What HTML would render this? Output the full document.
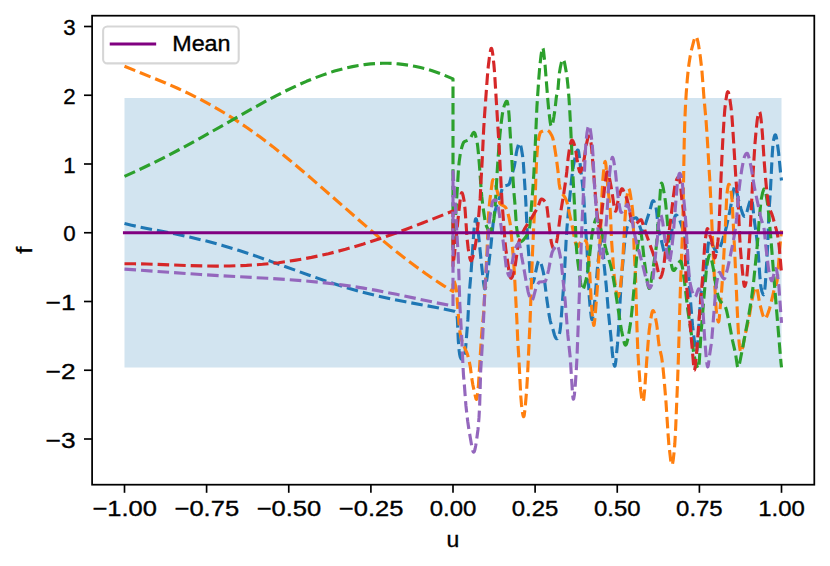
<!DOCTYPE html>
<html><head><meta charset="utf-8"><title>plot</title>
<style>
html,body{margin:0;padding:0;background:#fff;}
svg{display:block;}
text{font-family:"Liberation Sans",sans-serif;fill:#000;stroke:#000;stroke-width:0.35;}
.c path{fill:none;stroke-width:3.125;stroke-dasharray:11.56 5;stroke-linejoin:round;stroke-linecap:butt;}
.tk line{stroke:#000;stroke-width:1.67;}
</style></head>
<body>
<svg width="830" height="566" viewBox="0 0 830 566">
<rect width="830" height="566" fill="#fff"/>
<defs><clipPath id="ax"><rect x="92.1" y="15.7" width="722.2" height="469"/></clipPath></defs>
<rect x="124.5" y="98" width="657" height="269.5" fill="#d2e4f0"/>
<g class="c" clip-path="url(#ax)">
<path d="M124.5,223.5L131.5,225.2L140.5,227.2L174.5,233.8L189.5,237.0L206.5,241.1L222.5,245.4L238.5,250.3L255.5,255.9L271.5,261.6L308.5,275.0L327.5,281.6L345.5,287.4L362.5,292.2L376.5,295.7L391.5,299.1L405.5,301.8L437.5,307.7L454.3,311.3L455.2,311.8L456.0,312.7L456.7,313.8L457.0,314.9L457.4,319.5L458.3,340.6L459.1,350.2L459.6,354.1L460.2,356.8L461.1,358.8L461.5,359.3L461.9,359.4L462.4,359.2L463.0,358.4L463.6,357.1L464.2,355.4L465.2,351.4L465.7,347.3L467.9,319.2L469.2,294.0L470.9,274.6L473.9,231.1L474.5,224.7L475.4,219.6L475.7,218.8L475.9,218.7L476.1,218.8L476.3,219.2L476.8,221.2L477.5,225.5L478.1,230.5L481.5,264.4L483.5,282.4L484.4,288.0L484.8,288.9L485.0,288.9L485.2,288.7L485.7,287.0L486.2,284.1L488.2,268.9L491.0,244.7L493.0,224.4L494.1,216.3L495.2,210.6L496.9,204.6L500.6,194.6L502.1,189.0L502.7,187.3L503.2,186.6L504.0,186.1L507.2,185.3L508.4,184.8L509.0,184.3L509.6,183.0L511.6,175.5L513.5,169.3L514.4,165.8L515.0,162.5L516.3,153.2L517.1,149.3L518.5,144.5L519.0,143.5L519.5,143.1L519.9,143.3L520.3,144.0L521.3,148.1L522.6,156.1L523.4,163.5L525.7,199.3L527.1,229.4L528.0,244.7L529.9,270.4L530.4,275.2L530.9,278.2L531.5,280.8L532.0,282.3L532.5,282.8L532.8,282.7L533.1,282.3L533.7,280.9L534.3,278.7L536.9,266.1L538.0,262.0L538.6,260.9L539.1,260.6L539.4,260.7L539.8,261.1L540.5,262.3L541.3,264.4L542.1,267.1L543.2,271.6L543.8,274.6L546.8,299.0L549.1,314.9L550.1,320.3L551.0,323.6L553.0,329.5L554.5,335.0L555.2,336.9L556.0,338.3L556.6,338.8L556.9,338.8L557.3,338.5L558.0,337.5L559.0,335.2L559.7,332.7L560.3,328.8L560.9,322.9L564.3,276.3L566.1,240.9L566.9,228.7L568.8,206.7L571.7,178.3L572.9,168.7L575.0,157.7L575.8,154.4L576.6,151.8L577.3,150.4L577.6,150.1L577.9,150.0L578.3,150.5L578.6,151.6L579.3,156.2L580.9,171.1L582.8,187.0L583.8,197.7L585.7,230.1L587.0,248.1L588.4,281.2L589.1,294.4L590.1,307.0L591.3,317.4L591.8,319.4L592.0,319.6L592.2,319.5L592.7,318.0L593.3,314.3L595.3,295.8L597.3,269.6L598.2,260.4L599.6,248.9L600.5,242.8L601.3,239.3L601.7,238.5L601.9,238.5L602.0,238.6L602.3,240.0L602.6,242.7L604.2,265.4L606.3,286.5L608.7,315.2L611.0,337.5L612.3,352.8L612.8,357.1L613.6,362.5L614.2,365.2L614.5,365.9L614.7,366.1L615.0,365.9L615.2,365.3L615.8,361.6L617.5,344.2L618.9,323.1L620.9,286.5L621.9,273.6L624.4,244.9L625.7,234.8L626.9,228.1L627.5,226.1L628.4,223.8L629.4,221.9L630.3,220.7L631.8,219.5L634.0,218.3L635.8,217.8L636.3,217.9L636.7,218.1L637.2,218.8L637.8,220.3L641.6,231.7L642.2,232.7L642.5,232.8L642.8,232.7L643.2,232.1L643.7,230.8L645.9,222.7L649.4,212.1L651.9,202.7L652.4,201.5L652.8,200.9L653.2,200.7L653.6,200.9L654.3,202.0L655.0,203.8L655.8,206.7L656.4,209.6L656.8,212.7L657.9,225.3L659.0,231.5L661.2,239.8L664.1,252.2L665.1,255.0L665.6,255.7L666.0,255.9L666.5,255.6L667.1,254.5L667.7,252.8L668.4,250.0L669.7,243.3L672.9,224.4L673.8,220.1L674.6,217.3L675.4,215.5L675.8,215.1L676.2,215.1L676.8,215.3L677.4,215.9L678.7,217.9L679.7,220.1L680.9,223.4L683.5,231.9L684.9,238.8L686.3,248.2L687.0,254.2L687.6,260.8L690.2,297.4L692.5,325.2L694.9,345.6L695.7,350.0L696.1,351.3L696.4,351.6L696.6,351.5L696.8,350.9L697.1,349.3L697.8,342.3L700.1,305.2L701.0,294.0L701.5,290.1L702.2,286.0L704.8,274.6L705.9,268.5L706.6,262.3L708.0,246.1L708.7,241.1L709.0,240.3L709.3,240.1L709.8,240.4L710.5,241.1L711.7,243.1L714.6,249.1L715.4,250.4L716.2,251.2L717.0,251.5L717.8,251.1L718.6,250.1L719.5,248.5L720.7,245.6L722.1,241.5L725.3,231.0L726.5,226.4L730.3,209.0L733.3,191.2L733.9,188.6L734.4,187.2L734.8,186.6L735.1,186.6L735.4,186.9L735.8,187.9L736.5,190.6L738.2,198.8L741.1,209.2L742.7,214.0L743.4,215.4L744.1,216.2L744.6,216.4L745.1,216.2L745.6,215.4L746.1,214.3L747.1,211.2L749.3,203.2L750.4,200.3L750.9,199.5L751.3,199.2L751.6,199.4L751.9,200.1L752.6,204.4L754.3,220.3L756.3,234.5L757.4,244.1L758.3,253.8L759.8,275.6L760.6,284.4L761.2,288.4L761.9,291.5L762.9,294.0L763.3,294.6L763.6,294.8L763.9,294.4L764.1,293.7L764.7,290.1L765.2,285.5L765.7,278.7L767.7,245.6L768.9,212.9L770.4,191.0L772.2,155.1L772.8,146.6L773.4,140.9L774.2,137.1L774.7,135.6L775.1,134.9L775.4,134.8L775.7,135.1L776.4,137.5L777.2,142.2L778.6,152.7L780.7,174.2L781.5,180.5" stroke="#1f77b4"/>
<path d="M124.5,66.2L165.5,83.0L177.5,88.3L188.5,93.4L200.5,99.4L212.5,105.9L224.5,113.0L235.5,119.9L247.5,128.0L259.5,136.6L272.5,146.4L285.5,156.7L297.5,166.7L311.5,178.6L358.5,219.7L377.5,236.0L387.5,244.4L397.5,252.5L407.5,260.3L416.5,267.0L425.5,273.5L434.5,279.7L443.5,285.6L453.0,291.5L453.0,280.0L453.5,280.3L454.3,281.6L455.1,283.9L456.0,287.7L456.6,291.3L458.7,320.3L459.5,328.6L460.3,334.2L461.2,338.2L462.3,341.9L463.5,345.1L466.8,352.6L467.8,355.6L468.8,359.4L470.3,366.7L471.8,378.6L472.8,384.6L475.6,397.4L476.0,398.8L476.4,399.4L476.6,399.3L476.8,398.9L477.3,396.3L478.4,385.8L481.3,338.7L482.1,328.6L483.3,317.0L483.9,309.1L486.8,256.0L488.4,217.9L488.9,209.3L489.8,200.7L492.2,182.2L492.7,180.0L493.0,179.7L493.4,179.9L494.0,180.7L494.7,182.2L496.2,187.1L497.8,193.7L498.9,200.7L499.5,202.9L500.2,203.9L501.1,204.7L504.1,206.2L505.2,207.0L506.1,208.2L506.9,209.9L507.9,213.2L509.1,218.2L510.0,222.6L510.6,226.6L513.2,255.9L514.3,271.4L516.8,318.3L517.8,341.7L519.1,362.4L520.8,396.6L521.5,404.7L522.3,411.5L523.0,415.4L523.3,416.3L523.6,416.7L523.8,416.5L524.0,416.1L524.3,414.8L525.2,407.2L526.6,390.8L527.5,376.0L530.0,322.9L532.5,253.0L533.7,226.5L535.0,202.6L536.1,171.3L536.6,160.2L537.3,150.0L538.0,142.9L538.8,137.9L539.8,133.8L540.2,132.8L540.6,132.2L542.0,131.4L543.5,130.8L545.0,130.5L546.7,130.3L547.7,130.4L548.8,131.1L550.0,132.5L551.6,135.2L552.6,137.5L553.3,140.2L554.1,144.2L556.5,159.3L557.9,170.5L559.1,183.4L559.7,187.3L560.5,190.0L561.4,192.1L562.4,193.8L564.3,196.4L565.2,197.8L566.1,199.7L566.9,202.0L567.7,205.3L572.4,227.1L574.9,240.7L575.5,242.9L576.4,245.4L577.2,246.7L577.5,246.9L577.9,246.7L578.5,245.9L579.8,243.3L581.4,240.9L582.2,239.9L582.9,239.6L584.1,239.7L585.5,240.6L586.2,241.6L586.8,243.3L587.3,245.8L587.8,249.8L589.1,263.9L589.9,276.0L591.2,300.6L592.0,311.8L593.1,322.3L593.5,324.6L593.8,325.4L594.1,324.9L594.3,323.9L594.8,319.5L596.3,301.6L597.7,282.8L598.8,258.4L599.9,243.1L600.5,232.6L602.0,194.8L602.8,180.3L603.4,173.1L604.2,165.7L604.7,162.6L605.0,161.7L605.2,161.5L605.6,162.7L606.0,165.6L607.9,188.4L609.5,201.8L610.1,208.2L610.6,216.8L611.5,239.8L613.8,271.8L614.7,280.3L616.1,290.5L616.9,295.1L617.2,296.1L617.5,296.7L617.7,296.8L618.0,296.6L618.5,295.8L619.1,294.1L619.7,291.8L620.4,287.1L621.2,279.1L623.0,256.0L625.0,219.0L625.7,208.7L626.4,201.0L627.4,193.7L628.2,189.8L628.6,188.9L628.9,188.8L629.3,189.5L629.7,190.9L630.4,194.7L632.1,206.1L632.6,210.4L633.0,215.7L634.2,250.3L635.6,278.8L636.9,326.0L637.8,350.6L638.5,362.5L639.8,380.3L640.7,390.2L641.6,397.4L642.2,400.5L642.5,401.5L642.8,401.9L643.1,401.8L643.3,401.4L643.8,398.7L644.7,389.4L646.7,360.9L648.5,337.7L649.2,330.3L650.7,319.3L651.8,313.3L652.3,311.5L652.8,310.7L653.0,310.6L653.3,310.7L653.8,311.4L654.4,313.1L655.0,315.5L656.5,323.2L657.1,327.4L658.4,340.3L659.0,345.1L659.6,348.3L661.5,356.4L662.6,364.0L664.0,378.1L666.0,402.3L668.2,435.9L668.9,444.8L670.7,460.2L671.3,463.4L671.6,464.4L671.9,464.9L672.2,464.7L672.5,464.0L673.2,460.1L674.1,452.1L674.8,444.0L675.7,427.2L677.5,383.6L678.4,357.4L680.2,294.8L681.7,252.0L682.8,226.6L684.2,142.7L684.8,121.3L685.5,105.2L686.2,93.7L687.2,80.5L688.1,71.0L689.0,63.7L690.1,56.7L691.3,50.7L693.7,41.3L694.9,37.7L695.5,36.8L695.8,36.6L696.1,36.7L696.7,37.5L697.3,39.2L698.0,42.1L698.7,45.9L700.3,56.7L701.8,69.3L703.9,96.9L706.0,120.1L707.1,135.6L710.1,185.7L714.0,270.0L715.6,300.8L716.1,308.1L716.6,313.0L717.5,319.0L718.2,321.7L718.5,322.0L718.8,321.4L719.3,318.2L721.7,289.9L722.6,276.8L725.2,231.2L726.6,198.3L727.0,193.6L727.6,188.8L728.2,185.6L728.7,184.4L728.9,184.2L729.1,184.2L729.5,184.8L729.9,185.8L730.4,187.8L731.5,194.6L732.1,200.4L734.9,256.1L737.2,309.1L738.2,328.9L738.9,339.9L739.4,345.5L740.2,350.4L740.6,351.7L740.9,352.2L741.2,352.2L741.6,351.6L742.3,349.3L744.9,335.5L748.5,320.4L749.5,315.2L751.6,302.1L753.0,295.3L754.2,290.9L755.6,287.7L756.0,287.2L756.4,287.2L756.7,287.6L757.1,288.8L757.7,291.6L759.2,300.7L759.9,304.2L762.5,314.1L763.3,316.5L764.0,318.0L764.5,318.7L764.9,318.9L765.4,318.8L765.9,318.2L767.0,316.0L768.8,311.1L769.8,307.7L771.5,301.0L774.4,288.5L775.2,286.1L776.5,283.4L777.1,280.7L777.8,273.9L779.9,246.8L781.5,230.5" stroke="#ff7f0e"/>
<path d="M124.5,176.3L138.5,170.0L151.5,163.8L164.5,157.3L178.5,150.0L202.5,136.9L254.5,107.4L266.5,100.8L276.5,95.6L286.5,90.5L296.5,85.8L306.5,81.3L315.5,77.7L322.5,75.1L328.5,73.0L334.5,71.1L340.5,69.4L346.5,67.9L352.5,66.6L358.5,65.5L364.5,64.6L370.5,63.9L376.5,63.5L382.5,63.3L387.5,63.3L393.5,63.5L398.5,63.9L404.5,64.6L409.5,65.3L414.5,66.2L420.5,67.6L425.5,68.8L431.5,70.6L436.5,72.3L442.5,74.5L453.0,78.9L453.0,250.0L453.0,248.6L454.0,237.5L456.1,208.4L458.5,168.9L459.2,161.6L460.2,154.5L460.9,151.0L461.9,146.9L462.7,144.4L463.4,142.8L464.0,142.0L464.9,141.4L468.4,140.0L469.7,139.2L470.6,137.9L472.7,133.6L473.6,132.5L474.1,132.4L474.5,132.7L474.9,133.4L475.4,134.8L476.7,139.9L477.5,144.7L478.3,152.2L479.4,164.9L481.1,188.9L481.8,196.9L483.1,207.8L485.2,221.7L485.8,224.3L486.5,226.2L487.8,228.9L488.9,230.4L489.7,230.9L490.1,230.9L490.4,230.8L491.1,229.9L491.8,228.2L492.7,225.2L493.5,221.8L494.0,218.4L494.5,213.5L495.7,197.9L497.3,169.9L498.5,152.4L499.9,135.1L501.1,123.7L502.4,113.9L503.5,108.2L504.5,105.1L505.6,102.5L506.5,101.3L506.8,101.2L507.1,101.4L507.5,102.5L508.0,105.3L508.6,110.1L509.1,115.6L513.3,183.6L513.9,192.0L515.1,205.8L516.4,226.2L517.4,233.0L518.7,238.8L519.3,240.5L519.8,241.3L520.4,241.7L521.1,241.7L522.3,241.0L523.7,239.6L525.9,236.6L527.2,234.5L528.1,232.4L528.9,229.8L529.6,226.8L530.0,224.0L532.7,190.9L533.8,174.7L534.9,153.6L536.9,107.0L538.8,78.7L539.7,67.4L541.0,55.7L541.9,49.7L542.3,48.2L542.5,47.8L542.7,47.7L543.1,48.5L543.6,51.3L545.1,65.4L548.0,102.0L548.9,111.5L550.2,122.3L550.7,125.0L551.2,126.3L551.5,126.3L551.8,126.0L552.4,124.4L553.1,121.4L553.9,116.8L555.1,108.5L556.3,97.4L556.7,95.3L557.6,91.9L557.9,90.1L559.0,76.6L559.4,73.1L560.4,67.1L561.3,63.0L561.9,61.1L562.5,59.8L562.8,59.5L563.1,59.4L563.6,59.9L564.1,61.1L564.7,63.5L566.0,70.6L567.1,78.0L567.9,85.4L568.9,97.2L569.7,109.4L570.8,130.0L572.8,173.0L574.8,210.6L576.1,241.6L576.6,250.1L577.5,259.3L580.5,282.3L581.4,287.7L581.8,289.1L582.1,289.7L582.5,289.8L582.9,289.5L583.4,288.7L584.0,287.3L585.7,281.3L586.7,276.8L587.8,269.8L589.4,257.5L591.7,236.6L592.3,232.9L593.6,226.4L594.7,221.9L595.6,219.3L596.1,218.5L596.5,218.1L596.9,218.1L597.4,218.6L598.3,220.4L599.4,223.9L602.7,236.1L606.3,250.9L610.0,263.2L611.5,269.1L613.0,276.6L615.0,288.1L619.9,320.7L621.5,330.3L623.4,339.4L624.3,343.0L624.8,344.4L625.2,345.0L625.6,345.2L626.0,344.8L626.4,344.1L626.9,342.7L628.0,338.0L630.0,326.6L630.9,320.3L632.0,310.2L633.7,292.2L637.7,245.7L638.7,238.3L639.4,234.9L640.0,232.8L640.4,232.3L640.6,232.3L640.8,232.7L641.5,235.8L642.2,241.2L644.3,261.1L646.7,277.8L647.7,283.8L648.4,286.8L648.8,287.9L649.1,288.4L649.4,288.5L649.7,288.2L650.3,286.4L651.1,281.8L652.9,268.9L655.2,255.0L656.4,245.8L657.3,235.4L660.4,190.3L661.0,184.7L661.3,183.4L661.5,183.1L661.7,183.2L662.0,183.6L662.4,184.6L663.3,188.4L664.9,197.8L665.7,203.8L667.6,224.0L669.5,251.9L670.1,257.2L671.2,263.7L671.9,267.0L672.5,269.0L673.1,270.2L673.4,270.5L673.7,270.5L674.4,270.2L675.3,269.1L678.4,263.3L679.7,261.5L680.3,261.1L680.8,261.2L681.2,261.8L681.6,263.1L682.6,268.4L684.7,283.1L687.9,310.8L691.4,334.3L693.6,352.4L694.2,355.8L695.3,360.5L696.3,364.2L697.1,366.6L697.8,367.9L698.1,368.3L698.4,368.4L698.7,368.0L699.0,366.1L701.0,333.8L703.9,297.9L706.1,272.8L706.8,266.3L707.6,261.4L708.7,256.7L709.2,255.5L709.6,255.2L710.1,255.5L710.7,256.8L711.3,258.8L712.1,262.3L713.6,270.0L715.8,285.5L717.2,292.4L718.4,297.1L719.2,299.2L720.2,301.0L721.2,302.1L723.7,304.4L724.9,306.0L725.8,308.0L726.6,310.7L729.4,323.7L732.5,340.5L735.5,353.5L737.3,365.9L737.7,367.3L737.9,367.5L738.1,367.5L738.4,367.1L738.8,366.2L739.6,363.2L743.0,346.1L748.8,315.0L751.6,297.8L753.4,283.9L757.1,247.0L757.9,237.7L759.3,218.5L760.7,203.5L761.5,198.0L762.7,192.4L763.6,189.7L764.0,189.1L764.4,189.0L764.8,189.5L765.3,190.9L766.3,195.8L767.7,204.8L768.7,213.9L771.0,239.8L774.9,290.0L779.0,339.3L781.0,362.8L781.5,367.3" stroke="#2ca02c"/>
<path d="M124.5,263.7L134.5,263.8L146.5,264.0L186.5,265.5L201.5,265.9L216.5,266.1L229.5,266.0L246.5,265.4L262.5,264.3L278.5,262.7L294.5,260.4L302.5,259.1L311.5,257.4L319.5,255.7L328.5,253.7L345.5,249.3L363.5,244.0L381.5,238.1L401.5,231.0L422.5,223.0L453.0,211.0L453.0,266.0L453.0,265.0L453.7,260.3L455.7,242.8L458.0,219.6L460.1,200.5L461.0,194.5L461.4,193.1L461.8,192.7L462.1,192.9L462.4,193.5L463.1,195.8L463.9,199.7L464.6,204.4L465.2,211.1L467.1,238.7L468.2,248.5L469.1,254.4L469.9,258.3L470.6,260.4L470.9,260.8L471.3,260.8L471.6,260.5L472.0,259.7L472.7,257.6L475.1,246.7L476.6,237.1L477.9,225.6L480.2,198.2L481.3,175.8L482.2,160.5L483.7,128.5L484.6,114.6L487.3,77.6L488.3,66.2L489.6,55.8L490.6,50.0L491.0,48.7L491.2,48.4L491.4,48.3L491.7,48.7L492.1,50.1L492.8,54.6L493.9,64.5L494.6,73.0L499.2,148.2L502.1,203.6L503.7,223.3L505.0,241.8L505.8,249.1L508.9,270.6L509.9,275.9L510.4,277.5L510.8,278.1L511.1,278.3L511.5,278.1L511.9,277.5L512.4,276.5L513.3,273.8L514.5,269.3L515.3,265.0L518.0,245.5L518.8,242.0L520.0,238.5L522.0,233.8L524.4,229.1L526.1,226.3L531.2,218.6L537.2,208.5L538.1,206.6L540.1,200.8L540.6,199.8L541.1,199.2L541.6,199.0L542.3,199.2L543.1,199.6L543.8,200.2L545.3,202.0L546.0,203.3L546.4,204.2L546.8,206.0L547.2,208.7L550.6,237.4L551.4,242.7L552.4,246.4L552.9,247.7L553.3,248.3L553.7,248.6L554.1,248.5L554.6,247.9L555.1,246.9L556.5,242.8L557.4,237.8L560.8,211.5L563.7,194.0L565.9,179.1L566.8,171.7L568.1,158.4L568.9,152.5L569.9,146.5L570.6,143.1L571.2,141.1L571.5,140.5L571.8,140.2L572.1,140.1L572.5,140.4L573.2,141.6L574.1,143.9L575.1,147.3L575.8,150.7L577.2,160.6L578.5,167.7L579.4,171.2L579.7,171.9L580.1,172.1L580.4,172.0L580.8,171.5L581.6,169.6L582.4,166.8L583.5,162.2L584.4,157.6L586.0,146.2L587.7,138.6L588.3,136.9L588.8,136.1L589.1,136.1L589.3,136.3L589.8,137.4L590.4,139.8L591.0,143.0L591.7,148.6L595.9,201.2L596.8,211.1L598.3,223.2L598.8,226.0L599.3,227.5L599.6,227.6L599.9,226.9L600.6,223.0L604.3,190.5L606.2,175.2L606.8,172.2L607.1,171.8L607.4,171.9L607.9,172.7L608.5,174.4L609.8,179.9L611.8,190.5L613.8,204.4L614.7,208.7L615.3,210.8L615.6,211.2L615.8,211.1L616.2,210.2L618.4,199.1L619.5,194.7L620.6,191.2L621.2,189.6L621.7,188.8L621.9,188.7L622.2,188.7L622.7,189.1L623.3,190.2L625.7,195.7L627.1,199.6L627.8,202.3L628.9,207.5L631.0,219.1L631.6,221.2L632.7,223.4L633.6,224.6L634.1,224.8L634.6,224.7L635.8,224.0L639.8,220.3L640.5,219.8L641.0,219.7L641.3,219.8L641.9,220.7L643.5,226.0L646.5,234.9L652.6,252.1L655.2,259.8L656.6,264.7L658.9,275.1L659.5,276.8L659.8,277.4L660.1,277.6L660.5,277.6L660.9,277.1L661.8,275.0L662.8,271.1L663.8,266.1L665.7,248.9L666.4,245.2L668.1,238.0L669.1,231.9L671.3,214.6L673.3,196.9L674.9,185.8L675.6,182.8L676.9,179.1L677.8,177.5L678.2,177.2L678.6,177.2L679.0,177.7L679.5,179.2L680.4,183.8L681.9,200.3L683.5,209.7L684.1,214.9L684.7,225.8L685.6,266.9L686.2,281.1L686.7,287.2L688.0,299.7L693.7,366.4L694.1,369.5L694.3,370.1L694.5,370.1L694.9,368.6L695.3,365.7L696.7,351.6L699.1,318.8L702.7,276.2L704.6,246.8L705.4,238.9L706.5,231.6L706.9,229.7L707.2,228.8L707.5,228.6L707.8,228.9L708.3,230.2L709.5,234.4L711.1,238.7L711.9,242.3L713.9,255.0L714.3,256.9L714.7,257.9L714.9,257.9L715.2,257.4L715.8,254.9L717.0,248.0L717.9,241.5L718.5,235.6L719.0,227.8L720.5,189.6L721.9,158.0L722.8,140.1L724.0,120.2L724.8,109.6L725.7,101.5L726.9,93.9L727.4,92.2L727.8,91.7L728.2,92.0L728.6,92.9L729.6,97.4L731.0,107.1L731.8,114.6L732.7,127.2L735.9,178.6L736.6,187.3L737.9,200.7L738.4,207.4L739.7,237.1L740.4,248.7L741.2,258.3L743.3,279.6L743.8,283.8L744.2,285.8L744.5,286.4L744.7,286.4L744.9,286.2L745.4,284.9L745.9,282.9L746.6,278.5L747.4,270.6L748.5,256.4L750.4,226.7L753.0,174.5L754.9,144.5L756.2,129.4L757.2,120.2L757.7,117.1L758.3,114.5L758.9,112.6L759.4,111.8L759.7,111.9L759.9,112.3L760.4,114.5L761.0,119.0L761.8,126.7L762.5,135.2L764.0,158.7L765.2,174.3L766.4,187.3L767.9,200.8L768.5,204.6L769.1,207.1L770.0,209.8L771.9,214.2L773.0,217.6L776.3,229.7L777.7,235.9L778.5,240.8L779.3,247.6L781.5,273.2" stroke="#d62728"/>
<path d="M124.5,269.1L200.5,274.5L222.5,275.8L267.5,278.3L287.5,279.5L308.5,281.2L327.5,283.1L339.5,284.6L351.5,286.2L363.5,288.1L376.5,290.4L396.5,294.3L436.5,302.8L453.0,306.0L453.0,171.5L453.0,173.1L453.8,182.3L455.3,204.9L458.2,255.9L458.7,267.8L459.8,303.9L461.9,341.1L463.0,366.6L463.5,375.3L464.5,386.6L465.9,405.4L467.7,421.3L469.1,430.7L471.9,447.0L472.9,451.0L473.4,452.1L473.8,452.2L474.1,451.9L474.4,451.3L475.0,449.3L475.7,445.8L476.5,440.8L478.0,429.5L479.0,417.7L479.7,403.9L480.7,370.3L482.2,346.6L483.7,316.2L484.6,295.0L486.9,260.5L487.8,248.9L488.7,229.6L489.1,223.6L489.9,216.5L492.0,203.8L492.4,202.3L492.8,201.3L493.3,200.7L494.1,200.1L494.7,199.9L495.2,199.9L495.6,200.2L496.1,200.9L497.5,204.4L498.4,207.9L499.2,213.0L503.1,240.9L506.1,266.1L506.8,269.7L508.1,274.1L508.7,275.4L509.2,276.0L509.6,276.0L510.0,275.3L510.9,271.3L512.9,258.5L514.7,250.6L515.6,248.0L517.2,244.7L518.2,243.4L518.7,243.1L519.0,243.2L519.5,244.3L520.1,247.0L521.7,256.8L523.9,268.5L526.1,281.4L528.0,291.3L528.8,294.3L529.8,297.1L530.8,299.3L531.6,300.3L532.0,300.4L532.3,300.2L532.9,299.1L533.6,296.9L535.7,288.8L537.4,284.9L538.5,282.9L539.1,282.2L539.7,282.0L544.8,281.5L545.3,281.2L545.7,280.6L546.8,277.4L548.7,269.5L551.1,256.4L552.1,252.4L554.0,248.3L554.9,246.9L555.7,246.0L556.5,245.4L557.1,245.4L557.5,245.8L558.0,246.7L559.0,250.1L560.2,255.9L561.0,260.7L561.6,265.8L565.2,301.2L567.8,334.4L570.3,358.3L572.6,394.9L573.1,398.7L573.4,399.2L573.7,398.7L574.4,394.7L575.2,386.2L576.1,373.1L577.0,357.3L581.9,226.3L585.5,149.2L586.1,140.5L587.0,132.9L588.0,127.4L588.5,125.9L588.9,125.5L589.2,125.7L589.6,126.5L590.4,130.0L591.3,136.2L592.3,145.3L593.0,155.5L594.3,182.8L595.2,195.8L597.8,227.8L599.4,245.8L600.4,254.9L600.8,257.3L601.2,258.9L601.5,259.5L601.8,259.5L602.1,259.0L602.5,257.7L603.2,254.0L604.0,247.7L605.2,235.4L606.9,215.0L608.6,186.5L609.6,174.0L610.3,167.5L611.3,161.0L612.0,158.0L612.3,157.4L612.6,157.4L613.1,158.4L613.6,160.3L615.0,168.3L615.6,173.2L617.0,187.9L618.2,198.2L619.1,204.4L620.4,210.9L621.0,212.3L621.4,212.4L621.9,212.2L622.8,211.4L624.2,209.7L626.1,205.8L626.8,204.8L627.2,204.5L627.5,204.6L628.2,205.9L630.6,213.5L631.7,217.7L632.3,220.8L633.9,231.4L635.8,239.7L642.4,263.9L646.0,278.6L648.3,285.7L649.0,287.2L649.6,287.8L650.0,287.9L650.4,287.5L651.4,285.6L652.3,282.7L652.9,279.4L654.2,268.3L656.1,249.2L657.6,236.1L658.9,221.7L659.6,217.3L660.0,215.7L660.4,214.8L660.6,214.6L660.9,214.8L661.4,216.0L662.7,222.1L665.3,242.7L668.1,260.1L668.5,261.8L668.9,262.6L669.1,262.7L669.3,262.5L669.7,261.4L670.5,257.3L671.6,249.8L673.2,235.3L676.9,188.3L677.5,182.1L678.2,177.7L679.0,174.4L679.4,173.5L679.7,173.3L680.0,173.4L680.4,174.0L680.9,175.3L681.5,177.6L682.3,182.2L683.6,197.4L684.9,210.7L686.3,230.2L688.3,264.6L689.1,274.8L689.8,281.2L690.6,285.5L692.0,291.0L693.1,294.3L694.2,296.3L694.6,296.7L695.0,296.9L695.4,296.8L695.7,296.4L696.3,295.1L697.9,290.1L698.4,289.1L698.8,288.8L699.3,289.1L699.9,290.2L700.5,292.0L701.1,294.6L702.1,300.2L702.6,304.7L704.6,337.5L706.1,356.1L707.0,364.2L707.4,366.2L707.7,366.8L707.9,366.7L708.1,366.2L708.5,364.1L709.6,355.1L711.1,344.9L711.8,339.2L715.6,291.6L716.2,286.1L717.0,281.0L718.4,274.3L718.9,272.8L719.4,272.2L719.7,272.2L720.1,272.7L721.7,276.0L723.1,278.0L723.9,278.8L724.2,278.9L724.5,278.7L724.9,278.0L725.4,276.5L727.6,268.4L729.1,261.7L733.4,240.6L735.4,228.7L736.7,217.7L738.2,198.3L738.9,190.9L740.3,179.3L741.9,168.8L743.4,160.7L744.4,156.9L745.2,155.1L746.1,153.7L746.8,153.2L747.1,153.2L747.4,153.4L748.0,154.5L748.7,156.7L750.8,165.7L751.6,170.0L754.4,187.4L760.4,215.9L761.5,220.3L763.2,224.7L763.9,227.3L764.4,231.0L765.7,245.2L768.2,266.4L769.0,272.1L769.9,276.3L771.0,279.9L771.5,280.7L771.9,280.8L772.3,280.3L772.8,278.9L774.6,271.2L775.3,269.1L775.7,268.6L775.9,268.7L776.1,268.9L776.5,269.9L776.9,271.6L778.0,278.7L778.9,286.6L781.5,322.9" stroke="#9467bd"/>
</g>
<line x1="124.5" y1="232.75" x2="781.5" y2="232.75" stroke="#800080" stroke-width="3.125" stroke-linecap="square"/>
<rect x="92.1" y="15.7" width="722.2" height="469" fill="none" stroke="#000" stroke-width="1.75"/>
<g class="tk">
<line x1="124.5" y1="484.7" x2="124.5" y2="492.8"/>
<line x1="206.6" y1="484.7" x2="206.6" y2="492.8"/>
<line x1="288.75" y1="484.7" x2="288.75" y2="492.8"/>
<line x1="370.9" y1="484.7" x2="370.9" y2="492.8"/>
<line x1="453" y1="484.7" x2="453" y2="492.8"/>
<line x1="535.1" y1="484.7" x2="535.1" y2="492.8"/>
<line x1="617.25" y1="484.7" x2="617.25" y2="492.8"/>
<line x1="699.4" y1="484.7" x2="699.4" y2="492.8"/>
<line x1="781.5" y1="484.7" x2="781.5" y2="492.8"/>
<line x1="84" y1="26.5" x2="92.1" y2="26.5"/>
<line x1="84" y1="95.25" x2="92.1" y2="95.25"/>
<line x1="84" y1="164" x2="92.1" y2="164"/>
<line x1="84" y1="232.75" x2="92.1" y2="232.75"/>
<line x1="84" y1="301.5" x2="92.1" y2="301.5"/>
<line x1="84" y1="370.25" x2="92.1" y2="370.25"/>
<line x1="84" y1="439" x2="92.1" y2="439"/>
</g>
<g font-size="22" text-anchor="middle">
<text x="124.7" y="516.4" textLength="64.6" lengthAdjust="spacingAndGlyphs">−1.00</text>
<text x="206.8" y="516.4" textLength="64.6" lengthAdjust="spacingAndGlyphs">−0.75</text>
<text x="288.95" y="516.4" textLength="64.6" lengthAdjust="spacingAndGlyphs">−0.50</text>
<text x="371.1" y="516.4" textLength="64.6" lengthAdjust="spacingAndGlyphs">−0.25</text>
<text x="453" y="516.4" textLength="46.6" lengthAdjust="spacingAndGlyphs">0.00</text>
<text x="535.1" y="516.4" textLength="46.6" lengthAdjust="spacingAndGlyphs">0.25</text>
<text x="617.25" y="516.4" textLength="46.6" lengthAdjust="spacingAndGlyphs">0.50</text>
<text x="699.4" y="516.4" textLength="46.6" lengthAdjust="spacingAndGlyphs">0.75</text>
<text x="781.5" y="516.4" textLength="46.6" lengthAdjust="spacingAndGlyphs">1.00</text>
<text x="453" y="546.5" textLength="12.8" lengthAdjust="spacingAndGlyphs">u</text>
</g>
<g font-size="22" text-anchor="end">
<text x="75.6" y="35.05" textLength="12.4" lengthAdjust="spacingAndGlyphs">3</text>
<text x="75.6" y="103.80" textLength="12.4" lengthAdjust="spacingAndGlyphs">2</text>
<text x="75.6" y="172.55" textLength="12.4" lengthAdjust="spacingAndGlyphs">1</text>
<text x="75.6" y="241.30" textLength="12.4" lengthAdjust="spacingAndGlyphs">0</text>
<text x="75.6" y="310.05" textLength="30.0" lengthAdjust="spacingAndGlyphs">−1</text>
<text x="75.6" y="378.80" textLength="30.0" lengthAdjust="spacingAndGlyphs">−2</text>
<text x="75.6" y="447.55" textLength="30.0" lengthAdjust="spacingAndGlyphs">−3</text>
</g>
<text font-size="22" text-anchor="middle" transform="translate(31.8,250.3) rotate(-90)" textLength="7" lengthAdjust="spacingAndGlyphs">f</text>
<rect x="103.1" y="26.5" width="135.6" height="36.9" rx="4.2" ry="4.2" fill="#fff" fill-opacity="0.8" stroke="#cccccc" stroke-opacity="0.8" stroke-width="2.08"/>
<line x1="111.3" y1="44.0" x2="154.6" y2="44.0" stroke="#800080" stroke-width="3.125" stroke-linecap="square"/>
<text x="172.2" y="51.4" font-size="21.4" textLength="58.4" lengthAdjust="spacingAndGlyphs">Mean</text>
</svg>
</body></html>
